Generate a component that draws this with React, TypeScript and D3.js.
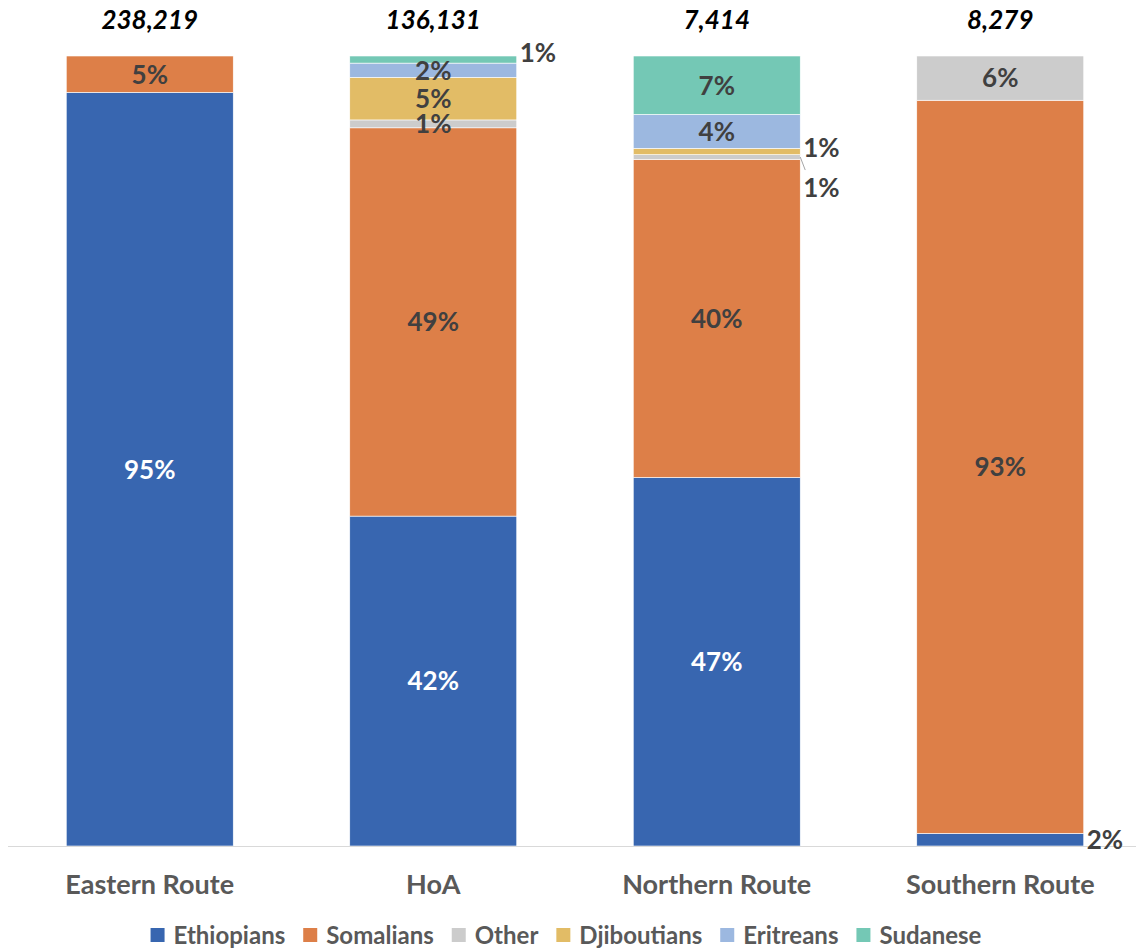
import React from "react";
import * as d3 from "d3";

const categories = ["Eastern Route", "HoA", "Northern Route", "Southern Route"];
const totals = ["238,219", "136,131", "7,414", "8,279"];
const seriesNames = ["Ethiopians", "Somalians", "Other", "Djiboutians", "Eritreans", "Sudanese"];
const ethiopians = [95.4, 41.8, 46.7, 1.6];
const somalians = [4.6, 49.2, 40.3, 92.8];
const other = [0, 1.0, 0.6, 5.6];
const djiboutians = [0, 5.4, 0.8, 0];
const eritreans = [0, 1.8, 4.3, 0];
const sudanese = [0, 0.9, 7.4, 0];
const seriesColors = ["#3866B0", "#DD7F48", "#CCCCCC", "#E2BC66", "#9CB8E0", "#74C8B5"];
const labelColors = ["#FFFFFF", "#404040", "#404040", "#404040", "#404040", "#404040"];

// labels placed outside the bar: [category, series, dy, leader]
const outsideLabels: [string, string, number, boolean][] = [
  ["HoA", "Sudanese", -7, false],
  ["Northern Route", "Djiboutians", -4, false],
  ["Northern Route", "Other", 31, true],
  ["Southern Route", "Ethiopians", 0, false],
];

const W = 1140;
const H = 949;
const FONT = "Lato, 'Open Sans', sans-serif";

function measure(text: string, font: string) {
  const c = document.createElement("canvas");
  const ctx = c.getContext("2d")!;
  ctx.font = font;
  return ctx.measureText(text).width;
}

export default function App() {
  const valuesBySeries = [ethiopians, somalians, other, djiboutians, eritreans, sudanese];
  const rows = categories.map((c, i) => {
    const r: any = { category: c };
    seriesNames.forEach((s, j) => (r[s] = valuesBySeries[j][i]));
    return r;
  });
  const stack = d3.stack<any>().keys(seriesNames).offset(d3.stackOffsetExpand);
  const stacked = stack(rows);

  const x = d3.scaleBand<string>().domain(categories).range([8, 1142]).paddingInner(0.411).paddingOuter(0.2055);
  const y = d3.scaleLinear().domain([0, 1]).range([846, 56]);
  const bw = x.bandwidth();

  const isOutside = (c: string, s: string) => outsideLabels.find((o) => o[0] === c && o[1] === s);

  return (
    <svg width={W} height={H} style={{ position: "absolute", left: 0, top: 0, background: "#fff" }} fontFamily={FONT}>
      {stacked.map((layer, j) => (
        <g key={layer.key}>
          {layer.map((d, i) => {
            const c = categories[i];
            const h = y(d[0]) - y(d[1]);
            if (h <= 0) return null;
            return (
              <rect key={c} x={x(c)} y={y(d[1])} width={bw} height={h} fill={seriesColors[j]} stroke="#ffffff" strokeWidth={0.6} />
            );
          })}
        </g>
      ))}
      <line x1={8} x2={1136} y1={846.5} y2={846.5} stroke="#D9D9D9" strokeWidth={1.2} />
      {stacked.map((layer, j) => (
        <g key={"l" + layer.key}>
          {layer.map((d, i) => {
            const c = categories[i];
            const v = valuesBySeries[j][i];
            if (v <= 0) return null;
            const label = Math.round(v) + "%";
            const cy = (y(d[0]) + y(d[1])) / 2;
            const o = isOutside(c, layer.key);
            if (o) {
              const right = (x(c) as number) + bw;
              return (
                <g key={c}>
                  {o[3] && <line x1={right} y1={cy} x2={right + 5} y2={cy + 13} stroke="#A6A6A6" strokeWidth={1} />}
                  <text x={right + 3} y={cy + o[2]} dy="0.36em" fontSize={26} fontWeight={700} fill="#404040">
                    {label}
                  </text>
                </g>
              );
            }
            return (
              <text key={c} x={(x(c) as number) + bw / 2} y={cy} dy="0.36em" textAnchor="middle" fontSize={26} fontWeight={700} fill={labelColors[j]}>
                {label}
              </text>
            );
          })}
        </g>
      ))}
      {categories.map((c, i) => (
        <text key={"t" + c} x={(x(c) as number) + bw / 2} y={20} dy="0.36em" textAnchor="middle" fontSize={26} fontWeight={700} fontStyle="italic" fill="#000">
          {totals[i]}
        </text>
      ))}
      {categories.map((c) => (
        <text key={"c" + c} x={(x(c) as number) + bw / 2} y={884} dy="0.36em" textAnchor="middle" fontSize={27} fontWeight={700} fill="#595959">
          {c}
        </text>
      ))}
      <Legend />
    </svg>
  );
}

function Legend() {
  const fs = 24;
  const widths = seriesNames.map((s) => measure(s, `700 ${fs}px Lato`));
  const key = 14;
  const gap = 9;
  const itemGap = 18;
  const xs: number[] = [];
  let total = 0;
  widths.forEach((w, i) => {
    xs.push(total);
    total += key + gap + w + (i < widths.length - 1 ? itemGap : 0);
  });
  const start = (W - total) / 2 - 4;
  return (
    <g>
      {seriesNames.map((s, i) => (
        <g key={s} transform={`translate(${start + xs[i]},935)`}>
          <rect x={0} y={-7} width={key} height={14} fill={seriesColors[i]} />
          <text x={key + gap} y={0} dy="0.36em" fontSize={fs} fontWeight={700} fill="#595959">
            {s}
          </text>
        </g>
      ))}
    </g>
  );
}
